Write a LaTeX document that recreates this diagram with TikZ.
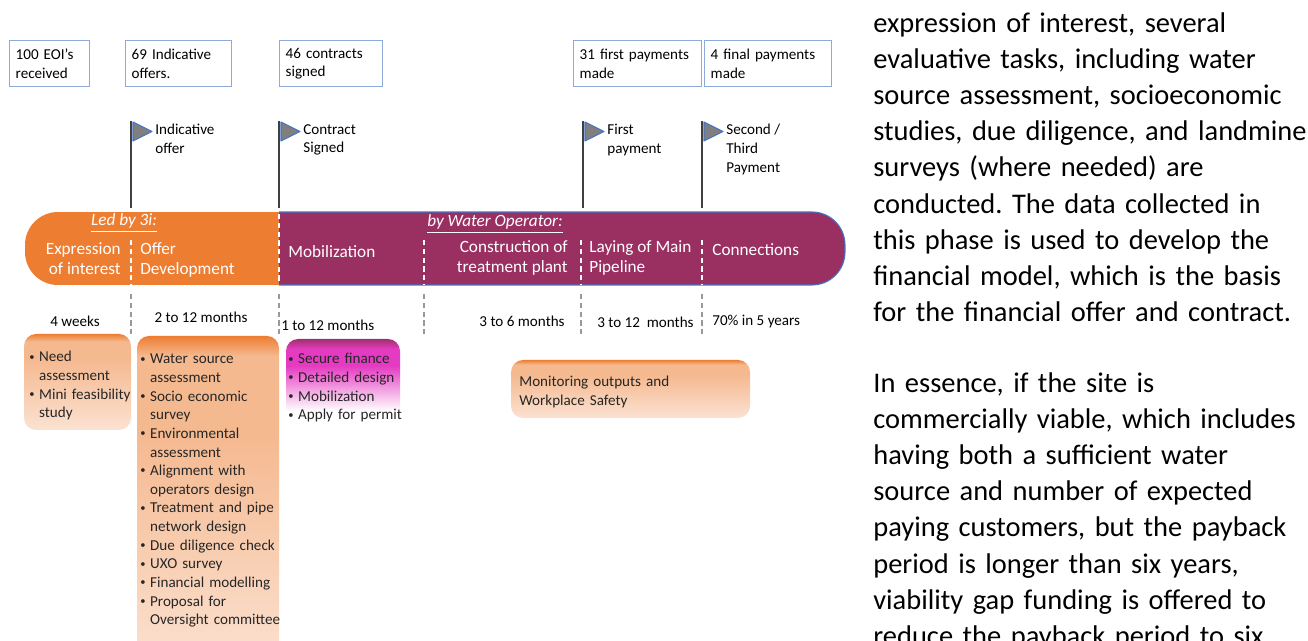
\documentclass[tikz,border=0pt]{standalone}
\usepackage{fontspec}
\setmainfont{Carlito}
\usetikzlibrary{positioning,calc}

\definecolor{eoiorange}{HTML}{ED7D31}
\definecolor{peach}{HTML}{F5B990}
\definecolor{peachlight}{HTML}{FBE2D2}
\definecolor{oppurple}{HTML}{9A3062}
\definecolor{magtop}{HTML}{A2306F}
\definecolor{magpink}{HTML}{E53BC2}
\definecolor{edgeblue}{HTML}{4472C4}
\definecolor{boxblue}{HTML}{8EAADB}
\definecolor{flaggray}{HTML}{7F7F7F}

\pgfdeclareverticalshading{peachfade}{100bp}{color(0bp)=(peachlight); color(25bp)=(peachlight);
  color(62bp)=(peach); color(71bp)=(peach); color(75bp)=(eoiorange); color(100bp)=(eoiorange)}
\pgfdeclareverticalshading{longfade}{100bp}{color(0bp)=(peachlight); color(25bp)=(peachlight);
  color(60bp)=(peach); color(72bp)=(peach); color(75bp)=(eoiorange); color(100bp)=(eoiorange)}
\pgfdeclareverticalshading{magfade}{100bp}{color(0bp)=(white); color(25bp)=(white); color(40bp)=(white);
  color(62bp)=(magpink); color(70bp)=(magpink); color(75bp)=(magtop); color(100bp)=(magtop)}

\newcommand\bulitem[1]{\par\hangindent=0.65em\hangafter=1\noindent
  \makebox[0.65em][l]{\raisebox{0.25ex}{\fontsize{6}{6}\selectfont\textbullet}}%
  \begingroup\let\\\newline#1\endgroup\par}

\begin{document}
\frenchspacing
\begin{tikzpicture}[
    x=0.02cm, y=-0.02cm,
    font=\fontsize{8.6}{10.6}\selectfont,
    countbox/.style={draw=boxblue, line width=0.8pt, fill=white, anchor=north west, align=left,
      inner xsep=0.12cm, inner ysep=0pt, minimum height=0.92cm},
    pole/.style={draw=black!75, line width=1.1pt},
    pennant/.style={fill=flaggray, draw=edgeblue, line width=0.6pt, line join=round},
    barlabel/.style={font=\fontsize{9.8}{11.4}\selectfont, text=white, inner sep=0pt},
    barsplit/.style={white, line width=1pt, dash pattern=on 3pt off 2pt},
    timesplit/.style={black!40, line width=0.9pt, dash pattern=on 3pt off 2pt},
    span/.style={inner sep=0pt},
    taskbox/.style={rounded corners=0.24cm, inner sep=0pt},
    tasks/.style={anchor=north west, align=left, inner sep=0pt, text=black!85},
    prose/.style={anchor=north west, align=left, inner sep=0pt, text width=10cm,
      font=\fontsize{16.2}{20.6}\selectfont},
  ]
  \useasboundingbox (0,0) rectangle (1308,641);

  % Counts at each milestone.
  \foreach \n/\x/\w/\t in {eoi/9/80/{100 EOI’s\\received}, offers/125/106/{69 Indicative\\offers.},
      signed/279/103/{46 contracts\\signed}, first/573/128/{31 first payments\\made},
      final/704/127/{4 final payments\\made}} {
    \pgfmathsetmacro\tw{(\w-12)*0.02*28.4528}
    \node[countbox, text width=\tw pt] (\n) at (\x,40) {\t};
  }

  % Milestone flags.
  \foreach \n/\x/\t in {flagoffer/131/{Indicative\\offer}, flagcontract/279/{Contract\\Signed},
      flagfirst/583/{First\\payment}, flagfinal/702/{Second /\\Third\\Payment}} {
    \draw[pole] (\x,121) -- (\x,208);
    \draw[pennant] (\x+2,122) -- (\x+2,141) -- (\x+21,131.5) -- cycle;
    \node[anchor=north west, align=left, inner sep=0pt] (\n) at (\x+24,124) {\t};
  }

  % Phase bar.
  \begin{scope}
    \clip[rounded corners=0.66cm] (25,212) rectangle (845,285);
    \fill[eoiorange] (25,212) rectangle (279,285);
    \fill[oppurple] (279,212) rectangle (845,285);
  \end{scope}
  \begin{scope}
    \clip (279,200) rectangle (860,300);
    \draw[edgeblue, line width=0.6pt, rounded corners=0.66cm] (25,212) rectangle (845,285);
  \end{scope}
  \node[barlabel] (by3i) at (124,223) {\textit{\underline{Led by 3i:}}};
  \node[barlabel] (byop) at (495,224) {\textit{\underline{by Water Operator:}}};
  \node[barlabel, anchor=north east, align=right] (ph1) at (121,242) {Expression\\of interest};
  \node[barlabel, anchor=north west, align=left] (ph2) at (140,242) {Offer\\Development};
  \node[barlabel, anchor=west] (ph3) at (288,252) {Mobilization};
  \node[barlabel, anchor=north east, align=right] (ph4) at (568,240) {Construction of\\treatment plant};
  \node[barlabel, anchor=north west, align=left] (ph5) at (589,240) {Laying of Main\\Pipeline};
  \node[barlabel, anchor=west] (ph6) at (712,250) {Connections};
  \draw[barsplit] (279,214) -- (279,284);
  \foreach \x in {131,424,581,702} \draw[barsplit] (\x,240) -- (\x,284);

  % Durations.
  \foreach \x in {131,279,424,581,702} \draw[timesplit] (\x,294) -- (\x,334);
  \node[span] (d1) at (75,321) {4 weeks};
  \node[span] (d2) at (201,317) {2 to 12 months};
  \node[span, anchor=west] (d3) at (281,325) {1 to 12 months};
  \node[span, anchor=east] (d4) at (565,321) {3 to 6 months};
  \node[span, anchor=west] (d5) at (597,322) {3 to 12\ \ months};
  \node[span, anchor=west] (d6) at (712,322) {70\% in 5 years};

  % Task boxes.
  \shade[taskbox, shading=peachfade] (24,334) rectangle (131,430);
  \shade[taskbox, shading=longfade] (137,336) rectangle (279,668);
  \shade[taskbox, shading=magfade] (286,339) rectangle (400,442);
  \shade[taskbox, shading=peachfade] (511,360) rectangle (750,418);
  \node[tasks, text width=2.3cm] (t1) at (29,343) {\bulitem{Need\\assessment}\bulitem{Mini feasibility\\study}};
  \node[tasks, text width=2.9cm] (t2) at (140,345) {\bulitem{Water source\\assessment}\bulitem{Socio economic\\survey}%
    \bulitem{Environmental\\assessment}\bulitem{Alignment with\\operators design}%
    \bulitem{Treatment and pipe\\network design}\bulitem{Due diligence check}\bulitem{UXO survey}%
    \bulitem{Financial modelling}\bulitem{Proposal for\\Oversight committee}};
  \node[tasks, text width=2.4cm] (t3) at (288,345) {\bulitem{Secure finance}\bulitem{Detailed design}%
    \bulitem{Mobilization}\bulitem{Apply for permit}};
  \node[tasks, text width=4.5cm] (t4) at (519,376) {Monitoring outputs and\\Workplace Safety};

  % Running text beside the figure.
  \node[prose] (para1) at (873,12) {expression of interest, several\\evaluative tasks, including water\\
    source assessment, socioeconomic\\studies, due diligence, and landmine\\surveys (where needed) are\\
    conducted. The data collected in\\this phase is used to develop the\\financial model, which is the basis\\
    for the financial offer and contract.};
  \node[prose] (para2) at (873,372) {In essence, if the site is\\commercially viable, which includes\\
    having both a sufficient water\\source and number of expected\\paying customers, but the payback\\
    period is longer than six years,\\viability gap funding is offered to\\reduce the payback period to six};
\end{tikzpicture}
\end{document}
